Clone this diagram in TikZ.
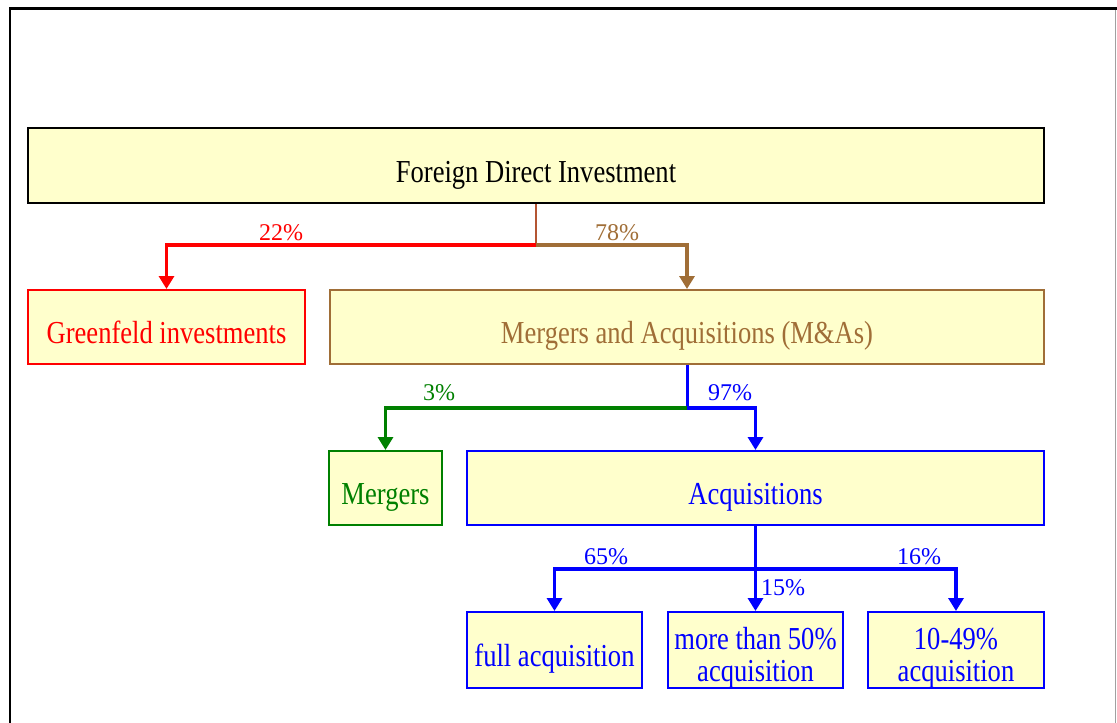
\documentclass[tikz,border=0pt]{standalone}
\usepackage{fontspec}
\setmainfont{Liberation Serif}[FakeStretch=0.83]
\newfontfamily\labfont{Liberation Serif}
\usetikzlibrary{arrows.meta}
\definecolor{boxfill}{RGB}{255,255,204}
\definecolor{fdired}{RGB}{255,0,0}
\definecolor{fdibrown}{RGB}{160,110,55}
\definecolor{fdistem}{RGB}{180,85,50}
\definecolor{fdigreen}{RGB}{0,128,0}
\definecolor{fdiblue}{RGB}{0,0,255}
\definecolor{framegray}{RGB}{160,160,160}
\tikzset{
  x=1pt, y=-1pt,
  box/.style={draw, fill=boxfill, line width=2pt, inner sep=0pt,
    font=\fontsize{32}{32}\selectfont, text height=33pt, text depth=0pt},
  twoline/.style={text height=31pt, text depth=33pt},
  conn/.style={line width=3.8pt},
  arr/.style={conn, -{Triangle[width=15pt,length=13pt]}},
  pct/.style={inner sep=0pt, font=\labfont\fontsize{24}{26}\selectfont}
}
\begin{document}
\begin{tikzpicture}
\useasboundingbox (0,0) rectangle (1117,723);
% frame
\draw[line width=2.5pt, line cap=rect] (10,723) -- (10,8.5) -- (1117,8.5);
\draw[framegray, line width=1.2pt] (1115.7,10) -- (1115.7,723);

% boxes
\node[box, text=black, draw=black, line width=2.5pt, minimum width=1016pt, minimum height=75pt] (fdi) at (536,165.5) {Foreign Direct Investment};
\node[box, draw=fdired, text=fdired, minimum width=277pt, minimum height=74pt] (green) at (166.5,327) {Greenfeld investments};
\node[box, draw=fdibrown, text=fdibrown, minimum width=714pt, minimum height=74pt] (ma) at (687,327) {Mergers and Acquisitions (M\&As)};
\node[box, draw=fdigreen, text=fdigreen, minimum width=113pt, minimum height=74pt] (merg) at (385.5,488) {Mergers};
\node[box, draw=fdiblue, text=fdiblue, minimum width=577pt, minimum height=74pt] (acq) at (755.5,488) {Acquisitions};
\node[box, draw=fdiblue, text=fdiblue, minimum width=175pt, minimum height=76pt] (full) at (554.5,650) {full acquisition};
\node[box, twoline, draw=fdiblue, text=fdiblue, minimum width=175pt, minimum height=76pt] (more) at (755.5,650) {\begin{tabular}[t]{@{}c@{}}more than 50\%\\acquisition\end{tabular}};
\node[box, twoline, draw=fdiblue, text=fdiblue, minimum width=176pt, minimum height=76pt] (part) at (956,650) {\begin{tabular}[t]{@{}c@{}}10-49\%\\acquisition\end{tabular}};

% junctions
\coordinate (j1) at (536,245);
\coordinate (j2) at (687,408);
\coordinate (j3) at (755.5,569);

% connectors level 1
\draw[fdistem, line width=2.5pt] (fdi.south) -- (j1);
\draw[arr, fdired] (j1) -| (green.north);
\draw[arr, fdibrown] (j1) -| (ma.north);
% level 2
\draw[fdiblue, line width=3pt] (ma.south) -- (j2);
\draw[arr, fdigreen] (j2) -| (merg.north);
\draw[arr, fdiblue] (j2) -| (acq.north);
% level 3
\draw[arr, fdiblue] (acq.south) -- (more.north);
\draw[arr, fdiblue] (j3) -| (full.north);
\draw[arr, fdiblue] (j3) -| (part.north);

% labels
\node[pct, text=fdired] (l22) at (281,233) {22\%};
\node[pct, text=fdibrown] (l78) at (617,233) {78\%};
\node[pct, text=fdigreen] (l3) at (439,393) {3\%};
\node[pct, text=fdiblue] (l97) at (730,393) {97\%};
\node[pct, text=fdiblue] (l65) at (606,557) {65\%};
\node[pct, text=fdiblue] (l16) at (919,557) {16\%};
\node[pct, text=fdiblue] (l15) at (783,588) {15\%};
\end{tikzpicture}
\end{document}
